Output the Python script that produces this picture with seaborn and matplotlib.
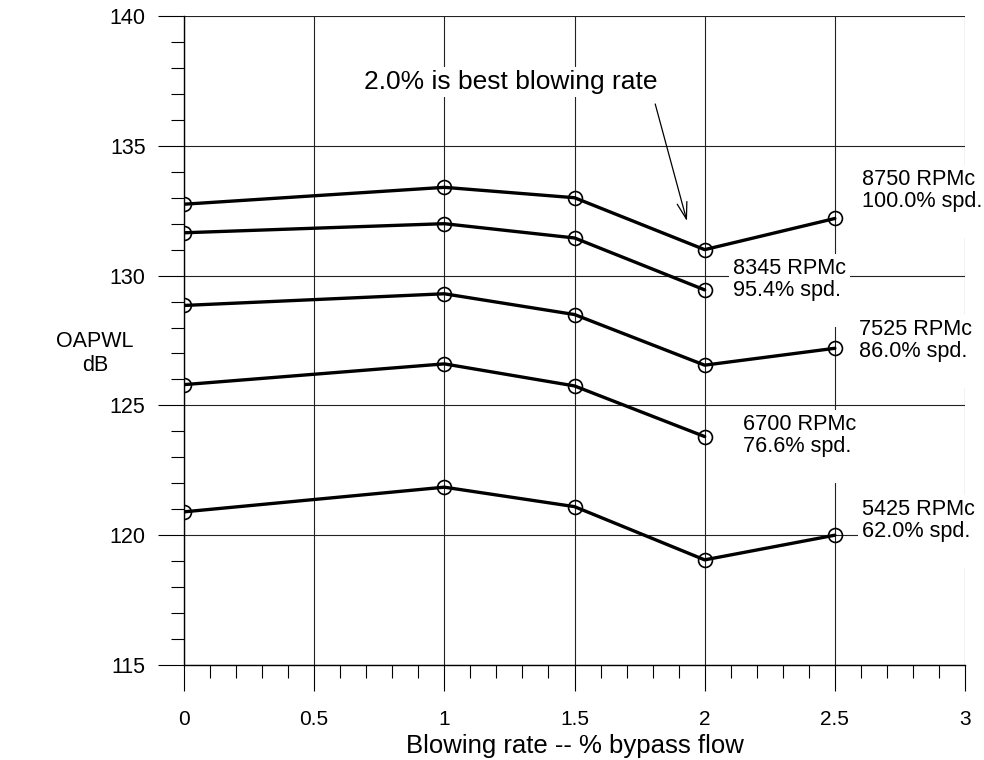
import matplotlib
matplotlib.use("Agg")
import matplotlib.pyplot as plt
import seaborn as sns
import pandas as pd

# ---------------- data ----------------
rates = [0.0, 1.0, 1.5, 2.0, 2.5]
speed_labels = ["8750 RPMc", "8345 RPMc", "7525 RPMc", "6700 RPMc", "5425 RPMc"]
pct_labels = ["100.0% spd.", "95.4% spd.", "86.0% spd.", "76.6% spd.", "62.0% spd."]
oapwl_8750 = [132.75, 133.4, 133.0, 131.0, 132.2]
oapwl_8345 = [131.65, 132.0, 131.45, 129.45]
oapwl_7525 = [128.85, 129.3, 128.5, 126.55, 127.2]
oapwl_6700 = [125.8, 126.6, 125.75, 123.8]
oapwl_5425 = [120.9, 121.85, 121.1, 119.05, 120.0]
series_values = [oapwl_8750, oapwl_8345, oapwl_7525, oapwl_6700, oapwl_5425]

xtick_values = [0, 0.5, 1, 1.5, 2, 2.5, 3]
xtick_labels = ["0", "0.5", "1", "1.5", "2", "2.5", "3"]
ytick_values = [115, 120, 125, 130, 135, 140]
ytick_labels = ["115", "120", "125", "130", "135", "140"]

annotation_text = "2.0% is best blowing rate"
x_title = "Blowing rate -- % bypass flow"
y_title = "OAPWL\ndB"

rows = []
for name, vals in zip(speed_labels, series_values):
    for r, v in zip(rates, vals):
        rows.append({"series": name, "rate": r, "pwl": v})
df = pd.DataFrame(rows)

# ---------------- style ----------------
sns.set_theme(style="white")
plt.rcParams["font.family"] = ["Liberation Sans", "DejaVu Sans"]
plt.rcParams["text.color"] = "black"

fig = plt.figure(figsize=(9.84, 7.6), dpi=100)
ax = fig.add_axes([184 / 984, 1 - 665 / 760, 781 / 984, 649 / 760])

sns.lineplot(
    data=df, x="rate", y="pwl", units="series", estimator=None, sort=False,
    color="black", lw=2.4, marker="o", markersize=10,
    markerfacecolor="none", markeredgecolor="black", markeredgewidth=1.2,
    legend=False, ax=ax, zorder=3,
)

ax.set_xlim(0, 3)
ax.set_ylim(115, 140)
ax.set_xticks(xtick_values, labels=xtick_labels)
ax.set_yticks(ytick_values, labels=ytick_labels)
ax.xaxis.set_minor_locator(matplotlib.ticker.MultipleLocator(0.1))
ax.yaxis.set_minor_locator(matplotlib.ticker.MultipleLocator(1))

ax.tick_params(axis="both", which="both", direction="out", color="black",
               bottom=True, left=True, top=False, right=False, width=0.8)
ax.tick_params(axis="both", which="major", length=18.7)
ax.tick_params(axis="both", which="minor", length=9.4)
ax.tick_params(axis="y", which="major", labelsize=15.5, pad=9, labelcolor="black")
ax.tick_params(axis="x", which="major", labelsize=15, pad=14, labelcolor="black")

ax.grid(True, which="major", color="#222222", lw=0.8)
ax.set_axisbelow(True)
for side in ["top", "right"]:
    ax.spines[side].set_visible(False)
for side in ["left", "bottom"]:
    ax.spines[side].set_color("black")
    ax.spines[side].set_linewidth(1.0)

ax.set_xlabel(x_title, fontsize=18.5, labelpad=3, color="black")
ax.set_ylabel(y_title, fontsize=15.5, rotation=0, ha="center", va="center",
              color="black", linespacing=1.15)
ax.yaxis.set_label_coords(-0.114, 0.48)

# series labels (white boxes hide gridlines)
label_pos = [(2.605, 134.11), (2.109, 130.68), (2.593, 128.33),
             (2.148, 124.67), (2.605, 121.40)]
for (lx, ly), s, p in zip(label_pos, speed_labels, pct_labels):
    ax.text(lx, ly, f"{s}\n{p}\n", ha="left", va="top", fontsize=15.6,
            linespacing=1.05, zorder=4, clip_on=False,
            bbox=dict(facecolor="white", edgecolor="none", pad=3))

# annotation
ax.text(1.256, 137.46, annotation_text, ha="center", va="center", fontsize=19,
        zorder=4, bbox=dict(facecolor="white", edgecolor="none", pad=2))
ax.annotate("", xy=(1.932, 132.1), xytext=(1.81, 136.61),
            arrowprops=dict(arrowstyle="->,head_length=0.6,head_width=0.18",
                            color="black", lw=0.9, shrinkA=0, shrinkB=0,
                            mutation_scale=20), zorder=4)

fig.savefig("out.png", dpi=100, facecolor="white")
